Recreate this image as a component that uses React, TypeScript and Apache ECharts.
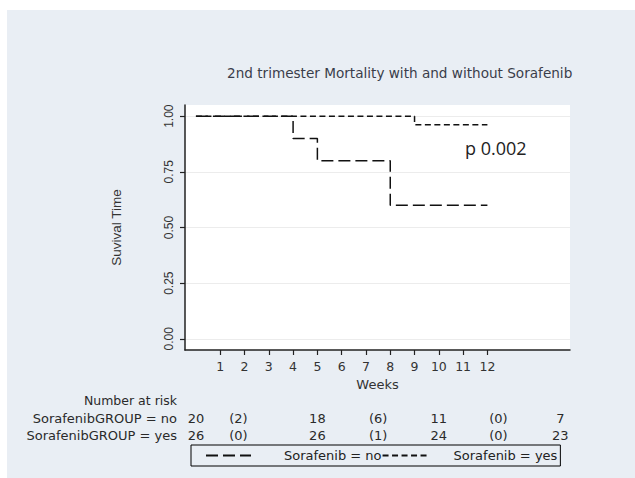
import React, { useEffect, useRef } from "react";
import * as echarts from "echarts";

// ---- data ----
const noWeeks = [0, 4, 5, 8, 12];
const noSurvival = [1.0, 0.9, 0.8, 0.6, 0.6];
const yesWeeks = [0, 9, 12];
const yesSurvival = [1.0, 0.9615, 0.9615];

const xTickValues = [1, 2, 3, 4, 5, 6, 7, 8, 9, 10, 11, 12];
const yTickValues = [0, 0.25, 0.5, 0.75, 1.0];

const riskRowLabels = ["SorafenibGROUP = no", "SorafenibGROUP = yes"];
const riskTimes = [0, 5, 10, 15];
const atRiskNo = [20, 18, 11, 7];
const atRiskYes = [26, 26, 24, 23];
const eventsNo = [2, 6, 0];
const eventsYes = [0, 1, 0];
const eventLabelWeeks = [1.75, 7.5, 12.45];

const seriesNames = ["Sorafenib = no", "Sorafenib = yes"];
const titleText = "2nd trimester Mortality with and without Sorafenib";
const pValueText = "p 0.002";

const FONT = '"Liberation Sans", Arial, sans-serif';
const WIDE = '"DejaVu Sans", sans-serif';

export default function App() {
  const ref = useRef<HTMLDivElement>(null);

  useEffect(() => {
    const el = ref.current;
    if (!el) return;
    const chart = echarts.init(el, null, { renderer: "svg" });

    const toPairs = (xs: number[], ys: number[]) => xs.map((x, i) => [x, ys[i]]);

    const option: any = {
      animation: false,
      backgroundColor: "#e9eef4",
      textStyle: { fontFamily: FONT },
      title: {
        text: titleText,
        left: 227,
        top: 66,
        padding: 0,
        textStyle: { fontSize: 13.6, fontWeight: "normal", color: "#3a3d4a", fontFamily: WIDE },
      },
      grid: {
        left: 185,
        top: 105,
        right: 65,
        bottom: 128,
        show: true,
        backgroundColor: "#ffffff",
        borderWidth: 0,
      },
      legend: {
        left: 191,
        top: 445,
        orient: "horizontal",
        padding: [4, 3, 4, 14],
        borderColor: "#000",
        borderWidth: 1,
        itemWidth: 45,
        itemHeight: 10,
        itemGap: 0,
        itemStyle: { color: "transparent", borderColor: "transparent", borderWidth: 0 },
        textStyle: { fontSize: 13, color: "#222", fontFamily: WIDE },
        data: [
          { name: seriesNames[0], textStyle: { padding: [0, 0, 0, 28] } },
          { name: seriesNames[1], textStyle: { padding: [0, 0, 0, 21] } },
        ],
      },
      xAxis: {
        type: "value",
        min: -0.45,
        max: 15.4,
        name: "Weeks",
        nameLocation: "middle",
        nameGap: 23,
        nameTextStyle: { fontSize: 13, color: "#333", fontFamily: WIDE },
        axisLine: { show: true, onZero: false, lineStyle: { color: "#222", width: 1.5 } },
        axisTick: { show: true, customValues: xTickValues, length: 5, lineStyle: { color: "#222", width: 1.2 } },
        axisLabel: { customValues: xTickValues, fontSize: 12.5, color: "#333", margin: 10, fontFamily: WIDE },
        splitLine: { show: false },
      },
      yAxis: {
        type: "value",
        min: -0.05,
        max: 1.05,
        name: "Suvival Time",
        nameLocation: "middle",
        nameGap: 62,
        nameTextStyle: { fontSize: 13.5, color: "#333", fontFamily: FONT },
        axisLine: { show: true, onZero: false, lineStyle: { color: "#222", width: 1.5 } },
        axisTick: { show: true, customValues: yTickValues, length: 5, lineStyle: { color: "#222", width: 1.2 } },
        axisLabel: {
          customValues: yTickValues,
          rotate: 90,
          fontSize: 12,
          color: "#333",
          margin: 10,
          fontFamily: FONT,
          formatter: (v: number) => v.toFixed(2),
        },
        splitLine: { show: true, lineStyle: { color: "#ececec", width: 1 } },
      },
      series: [
        {
          name: seriesNames[0],
          type: "line",
          step: "end",
          symbol: "none",
          data: toPairs(noWeeks, noSurvival),
          itemStyle: { color: "#111" },
          lineStyle: { color: "#111", width: 1.5, type: [12, 5] },
          z: 2,
        },
        {
          name: seriesNames[1],
          type: "line",
          step: "end",
          symbol: "none",
          data: toPairs(yesWeeks, yesSurvival),
          itemStyle: { color: "#111" },
          lineStyle: { color: "#111", width: 1.5, type: [6, 3.5] },
          z: 3,
        },
      ],
    };

    chart.setOption(option);

    const px = (w: number) => chart.convertToPixel({ xAxisIndex: 0 }, w) as number;
    const txt = (text: string, x: number, y: number, align: string, extra: any = {}) => ({
      type: "text",
      x,
      y,
      silent: true,
      style: {
        text,
        fill: "#2a2a2a",
        font: `13px ${WIDE}`,
        align,
        verticalAlign: "middle",
        ...extra,
      },
    });

    const rowY = [418, 435];
    const graphics: any[] = [
      { type: "rect", shape: { x: 0, y: 0, width: 635, height: 10 }, style: { fill: "#ffffff" }, silent: true },
      { type: "rect", shape: { x: 0, y: 0, width: 7, height: 478 }, style: { fill: "#ffffff" }, silent: true },
      txt("Number at risk", 177, 400, "right", { font: `12.5px ${WIDE}` }),
      txt(riskRowLabels[0], 177, rowY[0], "right"),
      txt(riskRowLabels[1], 177, rowY[1], "right"),
      txt(pValueText, 465, 148, "left", { font: `18px "Open Sans", sans-serif`, fill: "#222" }),
    ];
    riskTimes.forEach((t, i) => {
      graphics.push(txt(String(atRiskNo[i]), px(t), rowY[0], "center"));
      graphics.push(txt(String(atRiskYes[i]), px(t), rowY[1], "center"));
    });
    eventLabelWeeks.forEach((t, i) => {
      graphics.push(txt(`(${eventsNo[i]})`, px(t), rowY[0], "center"));
      graphics.push(txt(`(${eventsYes[i]})`, px(t), rowY[1], "center"));
    });
    chart.setOption({ graphic: graphics });

    return () => chart.dispose();
  }, []);

  return (
    <div
      ref={ref}
      style={{ position: "fixed", left: 0, top: 0, width: 635, height: 478 }}
    />
  );
}
